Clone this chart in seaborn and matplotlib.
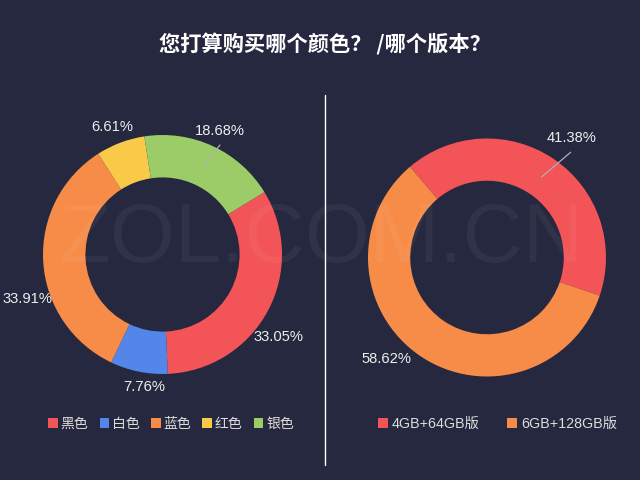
import matplotlib
matplotlib.use('Agg')
import matplotlib.pyplot as plt
import seaborn as sns
import numpy as np
from matplotlib.patches import Patch
from matplotlib.lines import Line2D

# ---------------- data ----------------
title = '您打算购买哪个颜色？ /哪个版本？'
watermark = 'ZOL.COM.CN'
color_labels = ['黑色', '白色', '蓝色', '红色', '银色']
color_values = [33.05, 7.76, 33.91, 6.61, 18.68]
version_labels = ['4GB+64GB版', '6GB+128GB版']
version_values = [41.38, 58.62]

# ---------------- style ----------------
BG = '#25283e'
color_palette = sns.color_palette(['#f25457', '#5485e8', '#f78c48', '#f8ca48', '#9bcc68'])
version_palette = sns.color_palette(['#f25457', '#f78c48'])
TEXT = '#eeeeee'

sns.set_theme(style='dark', rc={'axes.facecolor': BG, 'figure.facecolor': BG})
plt.rcParams['font.family'] = ['Liberation Sans', 'Noto Sans CJK SC', 'DejaVu Sans']

W, H = 640, 480
fig = plt.figure(figsize=(W / 100, H / 100), dpi=100, facecolor=BG)


def donut_axes(cx, cy, r):
    ax = fig.add_axes([(cx - r) / W, (H - cy - r) / H, 2 * r / W, 2 * r / H])
    return ax


def draw_donut(ax, values, palette, start, label_shift, leader):
    wedges, _ = ax.pie(values, colors=palette, startangle=start, counterclock=False,
                       radius=1.0, wedgeprops=dict(width=0.355, linewidth=0))
    ax.set_xlim(-1, 1)
    ax.set_ylim(-1, 1)
    ax.set_axis_off()
    for i, (w, v) in enumerate(zip(wedges, values)):
        mid = (w.theta1 + w.theta2) / 2.0
        dth, rr = label_shift[i]
        a = np.deg2rad(mid + dth)
        ax.text(rr * np.cos(a), rr * np.sin(a), f'{v:.2f}%', ha='center', va='center',
                fontsize=10.6, color=TEXT, clip_on=False)
        if i in leader:
            d_end, r_end = leader[i]
            a0 = np.deg2rad(mid)
            a1 = np.deg2rad(mid + d_end)
            ax.plot([0.82 * np.cos(a0), r_end * np.cos(a1)],
                    [0.82 * np.sin(a0), r_end * np.sin(a1)],
                    color='#b0b0b0', lw=0.9, clip_on=False)
    return wedges


# left donut
axL = donut_axes(162.5, 254.5, 119.5)
wl = draw_donut(axL, color_values, color_palette, 31.5,
                [(-7.5, 1.188), (3.5, 1.12), (14.6, 1.193), (0.8, 1.146), (0.0, 1.14)],
                {4: (-2.8, 1.035)})

# right donut
axR = donut_axes(487, 257.5, 119)
wr = draw_donut(axR, version_values, version_palette, 130.3,
                [(-1.1, 1.231), (-10.7, 1.2)],
                {0: (-4.3, 1.13)})

# title
fig.text(325 / W, 1 - 44 / H, title, ha='center', va='center', fontsize=15.3,
         fontweight='bold', color='white', family=['Noto Sans CJK SC', 'DejaVu Sans'])

# divider
fig.add_artist(Line2D([325 / W, 325 / W], [1 - 95 / H, 1 - 465 / H], color='white', lw=1.0))

# legends
hl = [Patch(facecolor=c, edgecolor='none') for c in color_palette]
legL = fig.legend(hl, color_labels, loc='center', bbox_to_anchor=(171 / W, 1 - 424 / H),
                  ncol=5, frameon=False, handlelength=0.7, handleheight=0.7,
                  handletextpad=0.2, columnspacing=0.8, labelcolor='#dddddd',
                  prop={'family': ['Noto Sans CJK SC', 'DejaVu Sans'], 'size': 10})
hr = [Patch(facecolor=c, edgecolor='none') for c in version_palette]
legR = fig.legend(hr, version_labels, loc='center', bbox_to_anchor=(497.5 / W, 1 - 424 / H),
                  ncol=2, frameon=False, handlelength=0.68, handleheight=0.68,
                  handletextpad=0.3, columnspacing=1.9, labelcolor='#dddddd',
                  prop={'family': ['Liberation Sans', 'Noto Sans CJK SC'], 'size': 10.3})

# watermark
fig.text(321 / W, 1 - 240 / H, watermark, ha='center', va='center', fontsize=60,
         color='white', alpha=0.05, family='Liberation Sans', zorder=10)

fig.savefig('out.png', dpi=100, facecolor=BG)
